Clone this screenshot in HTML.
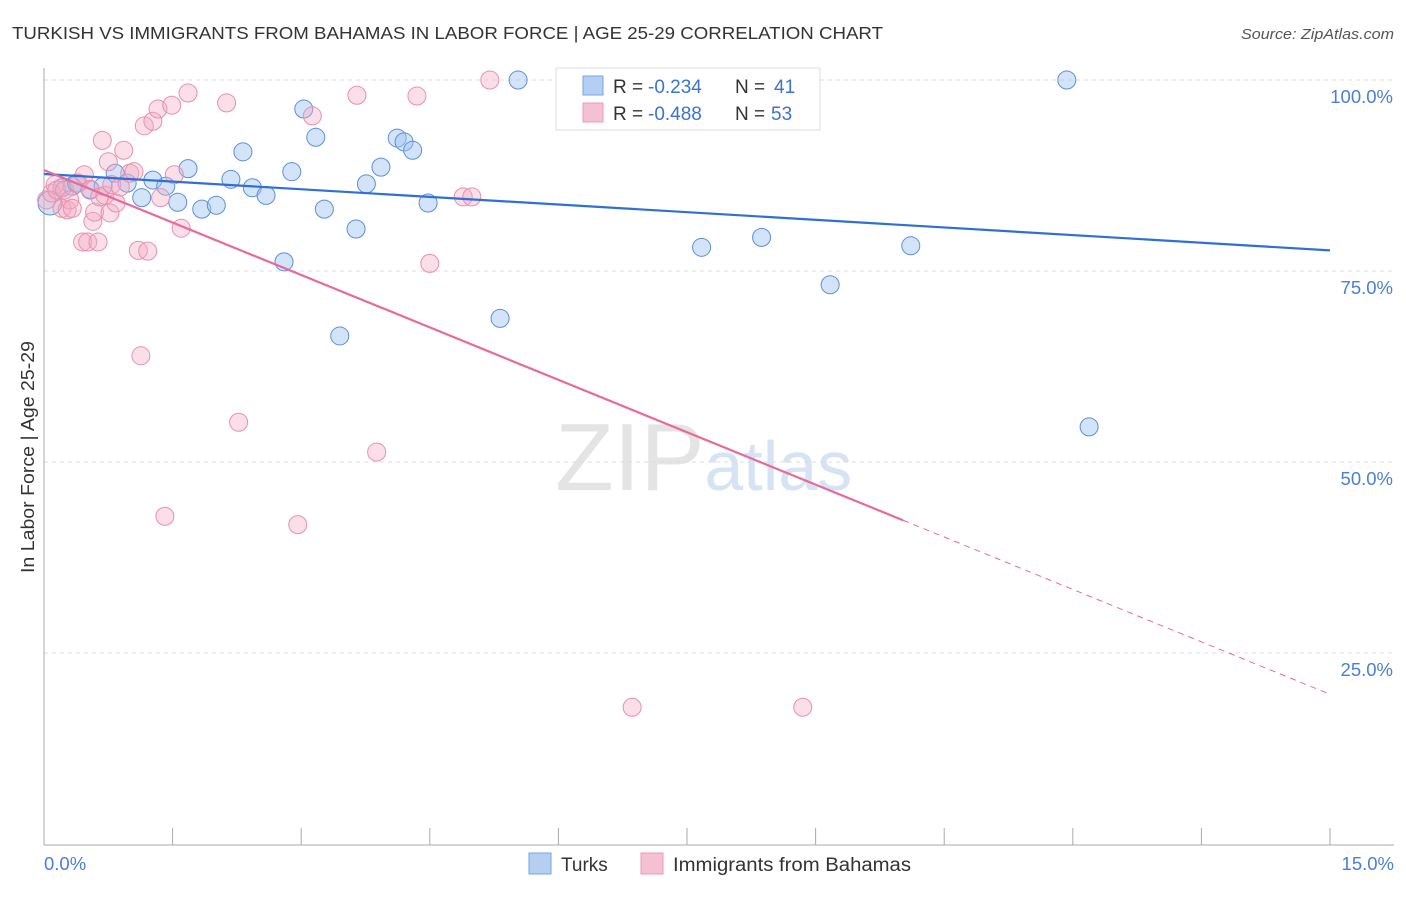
<!DOCTYPE html>
<html><head><meta charset="utf-8"><style>
body{margin:0;background:#fff;font-family:"Liberation Sans",sans-serif;}
svg text{font-family:"Liberation Sans",sans-serif;}
</style></head><body>
<svg id="chart" width="1406" height="892" viewBox="0 0 1406 892" xmlns="http://www.w3.org/2000/svg">
<text x="12" y="39" font-size="17.5" fill="#333" textLength="871" lengthAdjust="spacingAndGlyphs">TURKISH VS IMMIGRANTS FROM BAHAMAS IN LABOR FORCE | AGE 25-29 CORRELATION CHART</text>
<text x="1394" y="39" font-size="15" fill="#555" text-anchor="end" font-style="italic" textLength="153" lengthAdjust="spacingAndGlyphs">Source: ZipAtlas.com</text>
<text x="555" y="490" font-size="96" fill="#e4e4e4" font-family="Liberation Serif">ZIP<tspan fill="#d6e3f4" font-family="Liberation Sans" font-size="70">atlas</tspan></text>
<g id="grid"></g>
<g id="axes"></g>
<g id="points"></g>
<g id="lines"></g>
<text transform="translate(34,457) rotate(-90)" font-size="18" fill="#333" text-anchor="middle" textLength="232" lengthAdjust="spacingAndGlyphs">In Labor Force | Age 25-29</text>
<text x="44" y="870" font-size="18.5" fill="#4a7fd6">0.0%</text>
<text x="1394" y="870" font-size="18.5" fill="#4a7fd6" text-anchor="end">15.0%</text>
<g>
<rect x="556" y="68" width="264" height="62" fill="#fff" stroke="#ddd"/>
<rect x="583" y="76" width="20" height="19" fill="#b5cff3" stroke="#7aa3e3"/>
<text x="613" y="93" font-size="19" fill="#333">R =</text>
<text x="648" y="93" font-size="19" fill="#3a73d3">-0.234</text>
<text x="735" y="93" font-size="19" fill="#333">N =</text>
<text x="774" y="93" font-size="19" fill="#3a73d3">41</text>
<rect x="583" y="103" width="20" height="19" fill="#f5c0d2" stroke="#ea9ab6"/>
<text x="613" y="120" font-size="19" fill="#333">R =</text>
<text x="648" y="120" font-size="19" fill="#3a73d3">-0.488</text>
<text x="735" y="120" font-size="19" fill="#333">N =</text>
<text x="771" y="120" font-size="19" fill="#3a73d3">53</text>
</g>
<g>
<rect x="529" y="853" width="22" height="21" fill="#b5cff3" stroke="#7aa3e3"/>
<text x="561" y="871" font-size="19" fill="#333">Turks</text></g>
<g>
<rect x="641" y="853" width="22" height="21" fill="#f5c0d2" stroke="#ea9ab6"/>
<text x="673" y="871" font-size="19" fill="#333" textLength="238" lengthAdjust="spacingAndGlyphs">Immigrants from Bahamas</text></g>
</svg>
<script>
const yTicks=[25,50,75,100];
const yTickLabels=["25.0%","50.0%","75.0%","100.0%"];
const xTicks=[0,1.5,3,4.5,6,7.5,9,10.5,12,13.5,15];
const turksX=[0.07,0.21,0.33,0.38,0.54,0.69,0.83,0.97,1.14,1.27,1.42,1.56,1.68,1.84,2.01,2.18,2.32,2.43,2.59,2.80,2.89,3.03,3.17,3.27,3.45,3.64,3.76,3.93,4.12,4.20,4.30,4.48,5.32,5.53,6.10,7.67,8.37,9.17,10.11,11.93,12.19];
const turksY=[83.9,85.9,86.1,86.5,85.6,86.1,87.8,86.5,84.6,86.9,86.1,84.0,88.4,83.1,83.6,87.0,90.6,85.9,84.9,76.2,88.0,96.2,92.5,83.1,66.5,80.5,86.4,88.6,92.4,91.9,90.8,83.9,68.8,100,100,78.1,79.4,73.2,78.3,100,54.6];
const bahX=[0.03,0.09,0.13,0.15,0.21,0.24,0.27,0.30,0.33,0.40,0.45,0.47,0.51,0.54,0.57,0.59,0.63,0.65,0.68,0.71,0.75,0.77,0.79,0.84,0.89,0.93,1.00,1.05,1.10,1.13,1.17,1.21,1.27,1.33,1.36,1.41,1.49,1.52,1.60,1.68,2.13,2.27,2.96,3.13,3.65,3.88,4.35,4.50,4.89,4.99,5.20,6.86,8.85];
const bahY=[84.3,85.2,86.3,85.6,83.2,85.6,83.0,84.3,83.2,86.5,78.8,87.6,78.8,85.7,81.5,82.7,78.8,84.7,92.1,84.9,89.3,82.6,86.3,83.9,86.0,90.8,87.8,88.0,77.7,63.9,94.0,77.6,94.6,96.2,84.6,42.9,96.7,87.6,80.6,98.3,97.0,55.2,41.8,95.3,98.0,51.3,97.9,76.0,84.7,84.7,100,17.9,17.9];
const turksTrend=[87.7,77.7];
const bahTrend=[88.2,19.6];
const bahSolidEnd=10.02;

const NS="http://www.w3.org/2000/svg";
const sx=v=>44+v/15*1286;
const sy=v=>844-v/100*764;
function mk(tag,attrs,parent){const e=document.createElementNS(NS,tag);for(const k in attrs)e.setAttribute(k,attrs[k]);parent.appendChild(e);return e;}
const grid=document.getElementById('grid'),axes=document.getElementById('axes'),pts=document.getElementById('points'),lines=document.getElementById('lines');
yTicks.forEach((t,i)=>{
 const l=mk('line',{x1:44,x2:1394,y1:sy(t),y2:sy(t),stroke:'#ddd','stroke-dasharray':'4,4'},grid);
 
 
 const tx=mk('text',{x:1393,y:sy(t)+23,'font-size':18.5,fill:'#4a7fd6','text-anchor':'end'},grid);
 tx.textContent=yTickLabels[i];
 
 
});
const ya=mk('line',{x1:44,x2:44,y1:68,y2:845,stroke:'#aaa'},axes);


const xa=mk('line',{x1:44,x2:1394,y1:845,y2:845,stroke:'#aaa'},axes);


xTicks.forEach(t=>{
 const l=mk('line',{x1:sx(t),x2:sx(t),y1:828,y2:845,stroke:'#aaa'},axes);
 
 
});
turksX.forEach((x,i)=>{
 const c=mk('circle',{cx:sx(x),cy:sy(turksY[i]),r:i===0?12:9,fill:'rgba(160,195,240,0.45)',stroke:'#5b8fdc','stroke-width':1},pts);
 
 
});
bahX.forEach((x,i)=>{
 const c=mk('circle',{cx:sx(x),cy:sy(bahY[i]),r:9,fill:'rgba(245,170,195,0.38)',stroke:'#e890ae','stroke-width':1},pts);
 
 
});
const bl=mk('line',{x1:sx(0),y1:sy(turksTrend[0]),x2:sx(15),y2:sy(turksTrend[1]),stroke:'#2f6fd6','stroke-width':2.2},lines);


const pAt=x=>bahTrend[0]+(bahTrend[1]-bahTrend[0])*x/15;
const pl=mk('line',{x1:sx(0),y1:sy(bahTrend[0]),x2:sx(bahSolidEnd),y2:sy(pAt(bahSolidEnd)),stroke:'#e8699a','stroke-width':2.2},lines);


const pd=mk('line',{x1:sx(bahSolidEnd),y1:sy(pAt(bahSolidEnd)),x2:sx(15),y2:sy(bahTrend[1]),stroke:'#e8699a','stroke-width':1,'stroke-dasharray':'6,5'},lines);


</script>
</body></html>
